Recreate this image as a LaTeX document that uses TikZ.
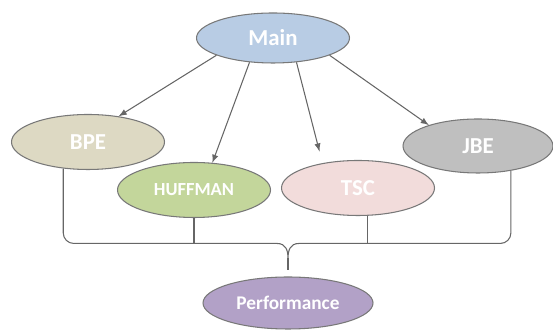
\documentclass[tikz,border=0pt]{standalone}
\usepackage{fontspec}
\setmainfont{Carlito}
\usepackage{xcolor}
\usepackage{tikz}
\usetikzlibrary{calc, shapes.geometric, positioning}

\definecolor{mainblue}{RGB}{184,204,228}
\definecolor{bpetan}{RGB}{221,217,195}
\definecolor{hufgreen}{RGB}{195,214,155}
\definecolor{tscpink}{RGB}{242,220,219}
\definecolor{jbegray}{RGB}{191,191,191}
\definecolor{perfviolet}{RGB}{178,161,199}
\definecolor{edgegray}{RGB}{120,120,120}

\begin{document}
\begin{tikzpicture}[>=latex,
    blob/.style={ellipse, draw=edgegray, line width=0.6pt, inner sep=0pt,
        minimum width=3.06cm, minimum height=1.1cm,
        text=white, font=\bfseries\fontsize{13}{15}\selectfont},
    link/.style={draw=black!60, line width=0.6pt}]
    \useasboundingbox (0,0) rectangle (11.06,6.62);

    % 1. Cac nut
    \node[blob, fill=mainblue, minimum height=1.0cm] (main) at (5.46,5.86) {Main};
    \node[blob, fill=bpetan] (bpe) at (1.76,3.78) {BPE};
    \node[blob, fill=hufgreen, font=\bfseries\fontsize{10.5}{12}\selectfont] (huffman) at (3.88,2.82) {HUFFMAN};
    \node[blob, fill=tscpink] (tsc) at (7.16,2.86) {TSC};
    \node[blob, fill=jbegray, minimum width=3.0cm, minimum height=1.08cm] (jbe) at (9.56,3.70) {JBE};
    \node[blob, fill=perfviolet, minimum width=3.4cm, minimum height=1.04cm,
        font=\bfseries\fontsize{11}{13}\selectfont] (perf) at (5.76,0.56) {Performance};

    % 2. Mui ten tu Main
    \draw[link, ->] (main.-163) -- (bpe.40);
    \draw[link, ->] (main.-134) -- (huffman.56);
    \draw[link, ->, shorten >=0.24cm] (main.-46) -- (tsc.145);
    \draw[link, ->] (main.-17) -- (jbe.157);

    % 3. Dau ngoac gom ve Performance
    \coordinate (tip) at ($(perf.north)+(0,0.12)$);
    \coordinate (bar) at ($(tip)+(0,0.54)$);
    \coordinate (barl) at ($(bar)+(-0.22,0)$);
    \coordinate (barr) at ($(bar)+(0.22,0)$);
    \coordinate (neck) at ($(bar)+(0,-0.3)$);
    \draw[link, rounded corners=6pt] (bpe.-133) |- (barl);
    \draw[link, rounded corners=6pt] (jbe.-37) |- (barr);
    \draw[link] (barl) .. controls +(0.18,0) and +(0,0.16) .. (neck)
        .. controls +(0,0.16) and +(-0.18,0) .. (barr);
    \draw[link] (neck) -- (tip);
    \draw[link] (huffman.south) -- (huffman.south |- bar);
    \draw[link] (tsc.-72) -- (tsc.-72 |- bar);
\end{tikzpicture}
\end{document}
